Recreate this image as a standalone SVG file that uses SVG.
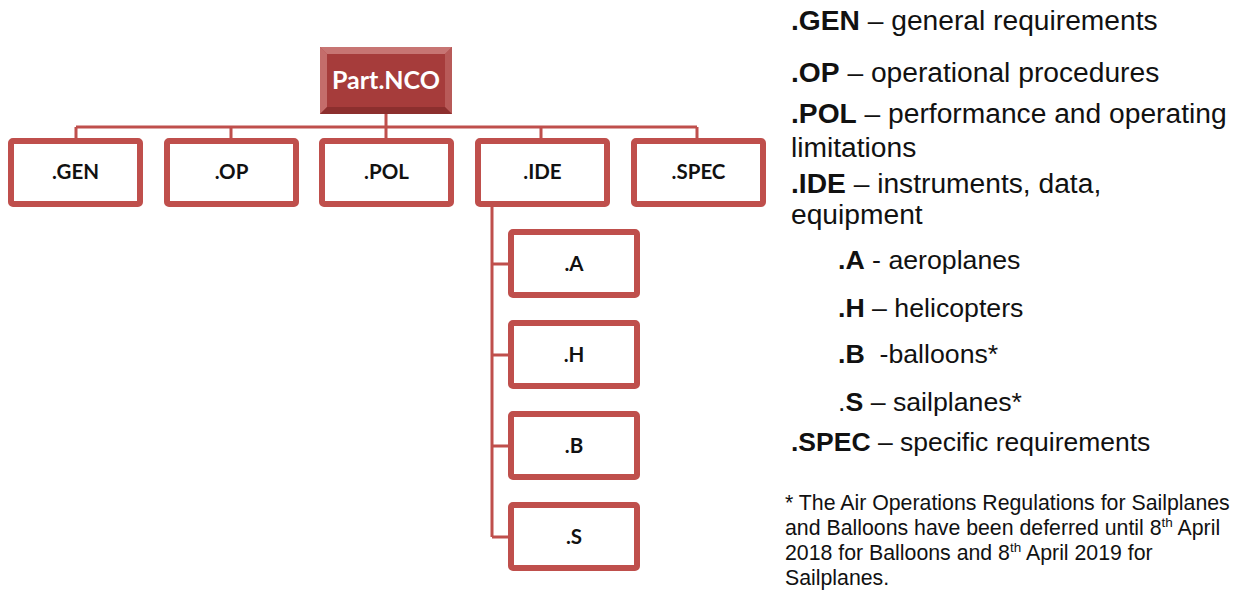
<svg xmlns="http://www.w3.org/2000/svg" width="1240" height="591" viewBox="0 0 1240 591">
  <style>
    .box { fill: #ffffff; stroke: #bf4f4c; stroke-width: 6; }
    .lbl { font-family: Lato, "Open Sans", sans-serif; font-weight: bold; font-size: 20.5px; fill: #111111; text-anchor: middle; }
    .link { fill: none; stroke: #bf4f4c; stroke-width: 3; }
    .desc { font-family: "Liberation Sans", Arial, sans-serif; font-size: 28.2px; fill: #111111; }
    .desc .sub { font-size: 26.7px; }
    .desc .spec { font-size: 26.5px; }
    .desc .k { font-weight: bold; }
    .note { font-family: "Liberation Sans", Arial, sans-serif; font-size: 21.3px; fill: #111111; }
  </style>
  <rect width="1240" height="591" fill="#ffffff"/>

  <!-- connectors of the tree -->
  <g id="connectors">
    <path class="link" d="M386 114 V127 M76 127 H697 M76 127 V138 M231 127 V138 M386 127 V138 M541 127 V138 M697 127 V138"/>
    <path class="link" d="M492 207 V537 M492 264 H508 M492 355 H508 M492 446 H508 M492 537 H508"/>
  </g>

  <!-- root node with bevelled face -->
  <g id="node-partnco">
    <rect x="320" y="47" width="132" height="67" fill="#b4504e"/>
    <polygon points="320,47 452,47 445,54 327,54" fill="#c77573"/>
    <polygon points="320,47 327,54 327,107 320,114" fill="#c46d6b"/>
    <polygon points="452,47 452,114 445,107 445,54" fill="#b85a58"/>
    <polygon points="320,114 327,107 445,107 452,114" fill="#8c2f2e"/>
    <rect x="327" y="54" width="118" height="53" fill="#a63c3b"/>
    <text x="386" y="89" font-family="Lato, 'Open Sans', sans-serif" font-weight="bold" font-size="25" fill="#ffffff" text-anchor="middle">Part.NCO</text>
  </g>

  <g id="node-gen">
    <rect class="box" x="11" y="141" width="129" height="63" rx="2"/>
    <text class="lbl" x="75.5" y="179">.GEN</text>
  </g>
  <g id="node-op">
    <rect class="box" x="167" y="141" width="129" height="63" rx="2"/>
    <text class="lbl" x="231.5" y="179">.OP</text>
  </g>
  <g id="node-pol">
    <rect class="box" x="322" y="141" width="129" height="63" rx="2"/>
    <text class="lbl" x="386.5" y="179">.POL</text>
  </g>
  <g id="node-ide">
    <rect class="box" x="478" y="141" width="129" height="63" rx="2"/>
    <text class="lbl" x="542.5" y="179">.IDE</text>
  </g>
  <g id="node-spec">
    <rect class="box" x="634" y="141" width="129" height="63" rx="2"/>
    <text class="lbl" x="698.5" y="179">.SPEC</text>
  </g>

  <g id="node-a">
    <rect class="box" x="511" y="232" width="126" height="63" rx="2"/>
    <text class="lbl" x="574" y="271">.A</text>
  </g>
  <g id="node-h">
    <rect class="box" x="511" y="323" width="126" height="63" rx="2"/>
    <text class="lbl" x="574" y="362">.H</text>
  </g>
  <g id="node-b">
    <rect class="box" x="511" y="414" width="126" height="63" rx="2"/>
    <text class="lbl" x="574" y="453">.B</text>
  </g>
  <g id="node-s">
    <rect class="box" x="511" y="505" width="126" height="63" rx="2"/>
    <text class="lbl" x="574" y="544">.S</text>
  </g>

  <!-- legend text -->
  <g id="legend" class="desc">
    <text x="791" y="30"><tspan class="k">.GEN</tspan> – general requirements</text>
    <text x="791" y="82"><tspan class="k">.OP</tspan> – operational procedures</text>
    <text x="791" y="123"><tspan class="k">.POL</tspan> – performance and operating</text>
    <text x="791" y="157">limitations</text>
    <text x="791" y="193"><tspan class="k">.IDE</tspan> – instruments, data,</text>
    <text x="791" y="224">equipment</text>
    <text class="sub" x="838" y="269"><tspan class="k">.A</tspan> - aeroplanes</text>
    <text class="sub" x="838" y="317"><tspan class="k">.H</tspan> – helicopters</text>
    <text class="sub" x="838" y="363" xml:space="preserve"><tspan class="k">.B</tspan>  -balloons*</text>
    <text class="sub" x="838" y="411">.<tspan class="k">S</tspan> – sailplanes*</text>
    <text class="spec" x="791" y="451"><tspan class="k">.SPEC</tspan> – specific requirements</text>
  </g>

  <g id="footnote" class="note">
    <text x="785" y="510">* The Air Operations Regulations for Sailplanes</text>
    <text x="785" y="535">and Balloons have been deferred until 8<tspan font-size="13.5" dy="-8">th</tspan><tspan dy="8"> April</tspan></text>
    <text x="785" y="560">2018 for Balloons and 8<tspan font-size="13.5" dy="-8">th</tspan><tspan dy="8"> April 2019 for</tspan></text>
    <text x="785" y="585">Sailplanes.</text>
  </g>
</svg>
